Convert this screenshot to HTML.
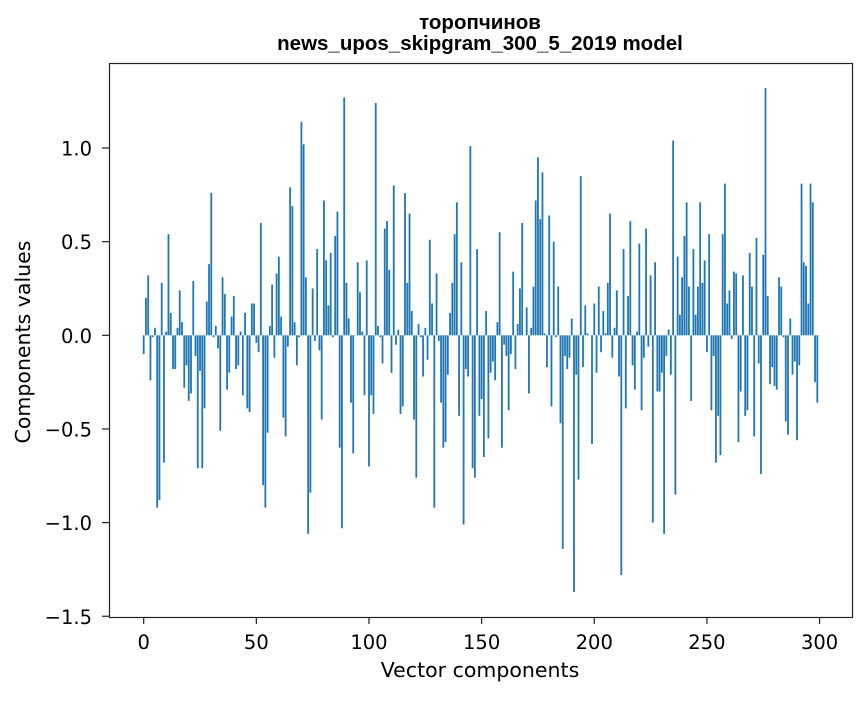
<!DOCTYPE html>
<html><head><meta charset="utf-8"><style>
body{margin:0;background:#fff;}
svg text{font-family:"DejaVu Sans","Liberation Sans",sans-serif;fill:#000;}
svg text.ttl{font-family:"Liberation Sans","DejaVu Sans",sans-serif;}
</style></head><body>
<svg id="chart" width="867" height="696" xmlns="http://www.w3.org/2000/svg">
<text class="ttl" x="480" y="29" text-anchor="middle" font-size="20.5" font-weight="bold">торопчинов</text>
<text class="ttl" x="480" y="50" text-anchor="middle" font-size="20.5" font-weight="bold">news_upos_skipgram_300_5_2019 model</text>
<g id="bars"></g>
<g id="xticks"></g>
<g id="yticks"></g>
<rect x="109.5" y="63.5" width="743" height="554" fill="none" stroke="#222" stroke-width="1.2"/>
<text x="480" y="677" text-anchor="middle" font-size="20.5">Vector components</text>
<text transform="translate(30,342) rotate(-90)" text-anchor="middle" font-size="20.5">Components values</text>
</svg>
<script>
const values = [
-0.1,0.2,0.32,-0.24,-0.01,0.04,-0.92,-0.88,0.28,-0.68,0.02,0.54,0.12,-0.18,-0.18,0.04,0.24,0.07,-0.28,-0.16,
-0.35,-0.31,0.29,-0.11,-0.71,-0.19,-0.71,-0.39,0.18,0.38,0.76,-0.01,0.05,-0.07,-0.51,0.31,0.22,-0.29,-0.2,0.1,
0.21,-0.18,-0.16,0.02,-0.32,0.12,-0.39,-0.41,0.17,0.17,-0.04,-0.09,0.6,-0.8,-0.92,-0.52,0.05,0.27,-0.12,0.33,
0.42,0.1,-0.44,-0.54,-0.06,0.79,0.69,0.07,-0.16,-0.01,1.14,1.02,0.31,-1.06,-0.84,0.25,-0.03,0.46,-0.08,-0.45,
0.72,0.4,0.16,0.44,-0.01,0.53,0.66,-0.6,-1.03,1.27,0.28,0.09,-0.36,-0.63,0.0,0.39,0.23,0.02,-0.32,0.4,
-0.7,-0.32,-0.42,1.24,0.05,-0.01,-0.15,0.57,0.61,0.35,-0.2,0.8,-0.05,0.03,-0.42,-0.38,0.76,0.28,0.65,0.13,
-0.45,-0.76,0.06,-0.01,-0.22,0.04,-0.13,0.51,0.17,-0.92,0.33,-0.03,-0.36,-0.6,-0.57,-0.21,0.12,0.28,0.54,0.71,
-0.43,0.39,-1.01,-0.18,-0.22,1.01,-0.71,-0.76,0.46,-0.43,-0.34,-0.65,0.13,-0.55,-0.2,-0.14,-0.24,0.07,0.55,-0.6,
-0.05,-0.11,-0.4,-0.1,0.34,-0.18,0.06,0.25,0.6,0.0,0.15,-0.31,0.04,0.26,0.72,0.95,0.62,0.87,0.01,-0.17,
0.64,-0.38,0.5,-0.01,0.26,-0.47,-1.14,-0.11,-0.18,-0.12,0.09,-1.37,-0.21,-0.77,0.85,-0.17,0.16,0.01,0.0,-0.58,
0.17,-0.2,0.26,-0.09,0.13,0.01,0.28,0.65,-0.12,0.04,0.24,-0.22,-1.28,0.46,-0.39,0.21,0.61,-0.16,-0.29,0.02,
0.49,-0.4,-0.12,0.57,-0.06,0.32,-1.0,0.39,-0.3,-0.3,-0.2,-1.06,-0.11,0.03,-0.21,1.04,-0.85,0.42,0.11,0.31,
0.53,0.71,0.26,-0.35,0.46,0.11,0.26,0.71,0.28,0.4,-0.09,0.54,-0.4,-0.11,-0.68,-0.43,-0.64,0.54,0.81,0.17,
0.24,-0.02,0.34,0.33,-0.57,-0.3,0.32,-0.43,-0.4,0.44,0.26,-0.54,0.52,-0.15,-0.74,0.43,1.32,0.21,-0.26,-0.17,
-0.27,-0.29,0.31,0.26,-0.01,-0.46,-0.53,0.09,-0.21,-0.14,-0.56,-0.16,0.81,0.39,0.37,0.17,0.81,0.71,-0.25,-0.36
];
const xTickValues = [0,50,100,150,200,250,300];
const yTickValues = [-1.5,-1.0,-0.5,0.0,0.5,1.0];
const yTickLabels = ["\u22121.5","\u22121.0","\u22120.5","0.0","0.5","1.0"];

const X0=109,X1=852,Y0=63,Y1=617;
const xMin=-15.4,xMax=314.4,yMin=-1.504,yMax=1.454;
function sx(v){return X0+(v-xMin)/(xMax-xMin)*(X1-X0);}
function sy(v){return Y1-(v-yMin)/(yMax-yMin)*(Y1-Y0);}
const NS="http://www.w3.org/2000/svg";
const bars=document.getElementById('bars');
values.forEach((v,i)=>{
  const r=document.createElementNS(NS,'rect');
  
  
  const x=sx(i-0.4), w=sx(i+0.4)-x;
  const y=Math.min(sy(v),sy(0)), h=Math.abs(sy(v)-sy(0));
  r.setAttribute('x',x);r.setAttribute('y',y);r.setAttribute('width',w);r.setAttribute('height',Math.max(h,0.3));
  r.setAttribute('fill','#1f77b4');
  bars.appendChild(r);
});
const xt=document.getElementById('xticks');
xTickValues.forEach(v=>{
  const l=document.createElementNS(NS,'line');
  
  
  l.setAttribute('x1',sx(v));l.setAttribute('x2',sx(v));l.setAttribute('y1',Y1);l.setAttribute('y2',Y1+7);
  l.setAttribute('stroke','#222');l.setAttribute('stroke-width','1.2');
  xt.appendChild(l);
  const t=document.createElementNS(NS,'text');
  
  
  t.setAttribute('x',sx(v));t.setAttribute('y',649);t.setAttribute('text-anchor','middle');t.setAttribute('font-size','19.5');
  t.textContent=String(v);
  xt.appendChild(t);
});
const yt=document.getElementById('yticks');
yTickValues.forEach((v,i)=>{
  const l=document.createElementNS(NS,'line');
  
  
  l.setAttribute('x1',X0-7);l.setAttribute('x2',X0);l.setAttribute('y1',sy(v));l.setAttribute('y2',sy(v));
  l.setAttribute('stroke','#222');l.setAttribute('stroke-width','1.2');
  yt.appendChild(l);
  const t=document.createElementNS(NS,'text');
  
  
  t.setAttribute('x',X0-17);t.setAttribute('y',sy(v)+7.5);t.setAttribute('text-anchor','end');t.setAttribute('font-size','19.5');
  t.textContent=yTickLabels[i];
  yt.appendChild(t);
});
</script>
</body></html>
